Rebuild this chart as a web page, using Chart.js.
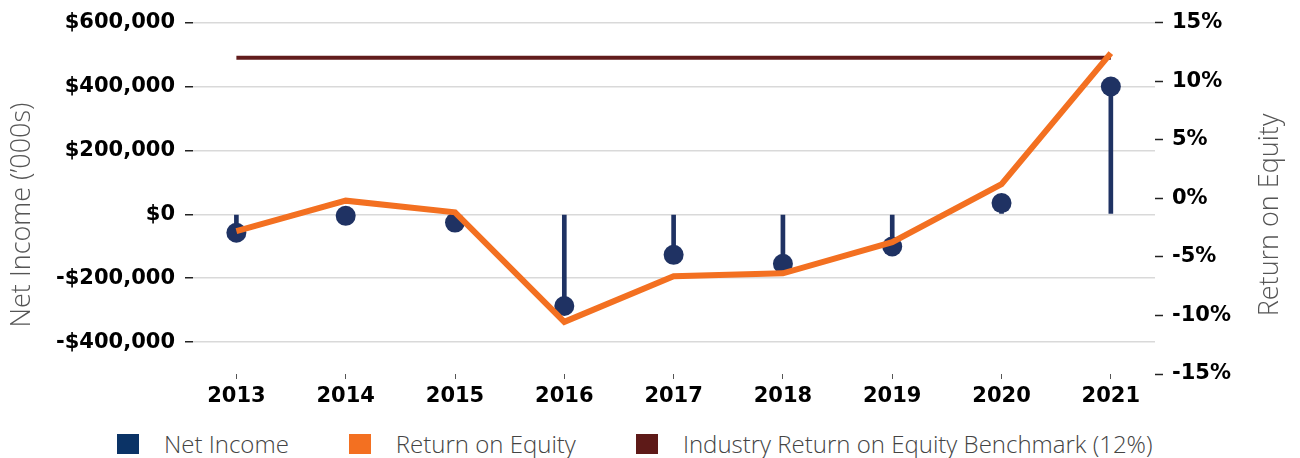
<!DOCTYPE html>
<html lang="en">
<head>
  <meta charset="UTF-8" />
  <title>Net Income and Return on Equity</title>
  <script src="https://cdn.jsdelivr.net/npm/chart.js"></script>
  <style>
    body { margin: 0; background: #fff; }
    .wrap { position: relative; width: 1300px; height: 458px; }
    .chart-box { position: absolute; left: 0; top: 0; width: 1300px; height: 420px; }
    .legend {
      position: absolute; left: 117px; top: 427px;
      display: flex; align-items: center;
      font-family: 'Open Sans', sans-serif; font-weight: 300; font-size: 24px; color: #444;
    }
    .legend .item { display: flex; align-items: center; margin-right: 60px; }
    .legend .box { width: 22px; height: 20px; margin-right: 25px; }
  </style>
</head>
<body>
  <div class="wrap">
    <div class="chart-box"><canvas id="roeChart"></canvas></div>
    <div class="legend" id="legend"></div>
  </div>
  <script>
    const years = [2013, 2014, 2015, 2016, 2017, 2018, 2019, 2020, 2021];
    const netIncome = [-58000, -5000, -26000, -287000, -127000, -155000, -101000, 35000, 400000];
    const roe = [-2.8, -0.2, -1.2, -10.55, -6.65, -6.4, -3.75, 1.2, 12.4];
    const benchmark = [12, 12, 12, 12, 12, 12, 12, 12, 12];
    const incomeTicks = [-400000, -200000, 0, 200000, 400000, 600000];

    const navy = '#1f3263';
    const orange = '#f37021';
    const maroon = '#621c1c';

    const legendItems = [
      { text: 'Net Income', color: '#0b3366' },
      { text: 'Return on Equity', color: orange },
      { text: 'Industry Return on Equity Benchmark (12%)', color: '#5e1a18' }
    ];

    const pts = arr => years.map((y, i) => ({ x: y, y: arr[i] }));

    const tickFont = { family: 'DejaVu Sans', weight: 'bold', size: 21 };

    // both axis titles read bottom-to-top, so draw them ourselves
    const axisTitles = {
      id: 'axisTitles',
      afterDraw(chart) {
        const ctx = chart.ctx;
        ctx.save();
        ctx.font = '300 27px "Open Sans"';
        ctx.fillStyle = '#555';
        ctx.textAlign = 'center';
        ctx.textBaseline = 'middle';
        [[22, 'Net Income (\u2019000s)'], [1270, 'Return on Equity']].forEach(([x, t]) => {
          ctx.save();
          ctx.translate(x, 215);
          ctx.rotate(-Math.PI / 2);
          ctx.fillText(t, 0, 0);
          ctx.restore();
        });
        ctx.restore();
      }
    };

    new Chart(document.getElementById('roeChart'), {
      data: {
        datasets: [
          {
            type: 'line', label: 'Return on Equity', data: pts(roe), yAxisID: 'y1',
            borderColor: orange, borderWidth: 6, pointRadius: 0, tension: 0, order: 0
          },
          {
            type: 'line', label: 'Industry Return on Equity Benchmark (12%)', data: pts(benchmark), yAxisID: 'y1',
            borderColor: maroon, borderWidth: 4, pointRadius: 0, order: 1
          },
          {
            type: 'line', label: 'Net Income', data: pts(netIncome), yAxisID: 'y',
            showLine: false, pointRadius: 10, pointBackgroundColor: navy, pointBorderWidth: 0, order: 2
          },
          {
            type: 'bar', label: 'Net Income stem', data: pts(netIncome), yAxisID: 'y',
            backgroundColor: navy, barThickness: 4, order: 3
          }
        ]
      },
      options: {
        responsive: true,
        maintainAspectRatio: false,
        animation: false,
        events: [],
        layout: { padding: { top: 21, left: 0, right: 0, bottom: 0 } },
        plugins: { legend: { display: false }, tooltip: { enabled: false } },
        scales: {
          x: {
            type: 'linear', min: 2012.603, max: 2021.404, offset: false,
            afterBuildTicks: s => { s.ticks = years.map(v => ({ value: v })); },
            afterFit: s => { s.height = 46; },
            border: { display: false },
            grid: { offset: false, drawOnChartArea: false, tickLength: 5, tickColor: '#555', tickWidth: 1 },
            ticks: { color: '#000', font: tickFont, padding: 5, callback: v => String(v) }
          },
          y: {
            position: 'left', min: -500000, max: 600000,
            afterBuildTicks: s => { s.ticks = incomeTicks.map(v => ({ value: v })); },
            afterFit: s => { s.width = 193; },
            border: { display: false },
            grid: { color: '#d9d9d9', lineWidth: 1.5, tickColor: '#222', tickWidth: 1.5, tickLength: 8 },
            ticks: {
              color: '#000', font: tickFont, padding: 10,
              callback: v => (v < 0 ? '-$' : '$') + Math.abs(v).toLocaleString('en-US')
            }
          },
          y1: {
            position: 'right', min: -15, max: 15,
            afterFit: s => { s.width = 145; },
            border: { display: false },
            grid: { drawOnChartArea: false, tickColor: '#222', tickWidth: 1.5, tickLength: 8 },
            ticks: { stepSize: 5, color: '#000', font: tickFont, padding: 9, callback: v => v + '%' }
          }
        }
      },
      plugins: [axisTitles]
    });

    const legend = document.getElementById('legend');
    legendItems.forEach(it => {
      const item = document.createElement('div');
      item.className = 'item';
      item.innerHTML = '<span class="box" style="background:' + it.color + '"></span><span>' + it.text + '</span>';
      legend.appendChild(item);
    });
  </script>
</body>
</html>
